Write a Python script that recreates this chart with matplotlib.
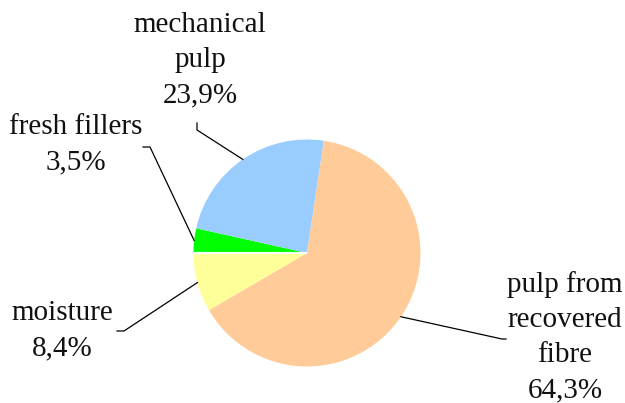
import numpy as np
import matplotlib
matplotlib.use("Agg")
import matplotlib.pyplot as plt

# Data
labels = ["fresh fillers", "mechanical\npulp", "pulp from\nrecovered\nfibre", "moisture"]
shares = [3.5, 23.9, 64.3, 8.4]
colors = ["#00FF00", "#99CCFF", "#FFCC99", "#FFFF99"]

W, H = 625, 403
fig = plt.figure(figsize=(W / 100, H / 100), dpi=100)
ax = fig.add_axes([0, 0, 1, 1])

# pie in pixel units (y up)
cx, cy, r = 307, H - 253, 113.5
wedges, _ = ax.pie(shares, colors=colors, startangle=180, counterclock=False,
                   center=(cx, cy), radius=r, frame=True,
                   wedgeprops=dict(linewidth=0))
ax.set_xlim(0, W)
ax.set_ylim(0, H)
ax.set_aspect("equal")
ax.axis("off")

# white seam on the start edge (between moisture and fresh fillers)
a0 = np.deg2rad(wedges[0].theta2)
ax.plot([cx, cx + r * np.cos(a0)], [cy, cy + r * np.sin(a0)], color="white", lw=1.5,
        solid_capstyle="butt")

# label placement: text centre, line anchor, short stub end
text_pos = [(76, 145), (200, 60), (565, 337), (62, 331)]
anchors = [((143, 147), (150, 147)),
           ((197, 123), (197, 130)),
           ((506, 339), (502, 339)),
           ((117, 331), (124, 331))]

font = dict(family="Liberation Serif", size=21, color="#111111")

for w, lab, val, (tx, ty), (p0, p1) in zip(wedges, labels, shares, text_pos, anchors):
    mid = np.deg2rad((w.theta1 + w.theta2) / 2)
    ex, ey = cx + r * np.cos(mid), cy + r * np.sin(mid)
    xs = [p0[0], p1[0], ex]
    ys = [H - p0[1], H - p1[1], ey]
    ax.plot(xs, ys, color="black", lw=0.9)
    txt = lab + "\n" + f"{val:.1f}%".replace(".", ",")
    ax.text(tx, H - ty, txt, ha="center", va="center", linespacing=1.45, **font)

fig.savefig("out.png", dpi=100)
